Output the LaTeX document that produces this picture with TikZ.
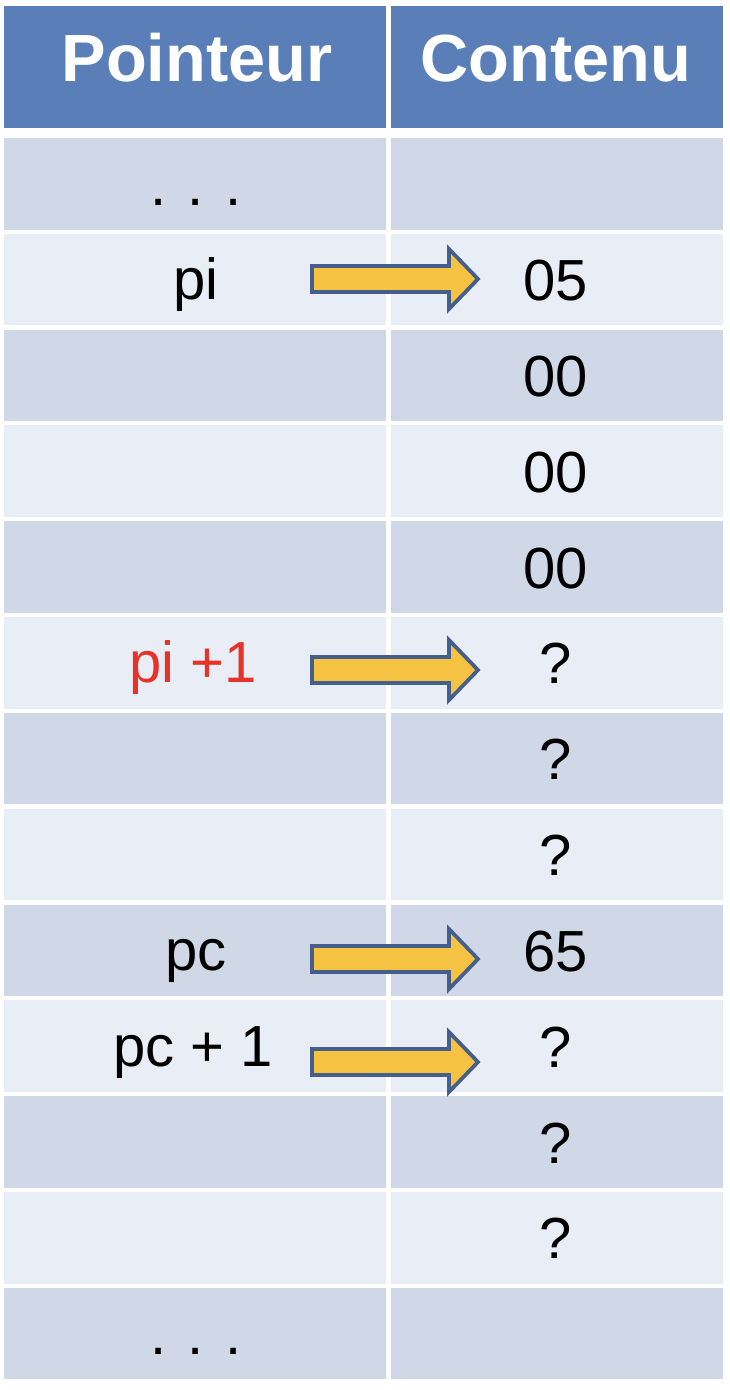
\documentclass[tikz,border=0pt]{standalone}
\usepackage{fontspec}
\setmainfont{Liberation Sans}

\definecolor{headblue}{HTML}{5A7FB8}
\definecolor{rowdark}{HTML}{D0D8E7}
\definecolor{rowlight}{HTML}{E9EDF5}
\definecolor{arrowfill}{HTML}{F5C242}
\definecolor{arrowline}{HTML}{445F8C}
\definecolor{ptrred}{HTML}{E63228}

\tikzset{
  headtext/.style={anchor=base, text=white, font=\bfseries\fontsize{38}{38}\selectfont, inner sep=0pt},
  celltext/.style={anchor=base, font=\fontsize{33}{33}\selectfont, inner sep=0pt},
  ptrarrow/.style={fill=arrowfill, draw=arrowline, line width=0.075cm, miter limit=10}
}

% block arrow at height #1
\newcommand{\ptrarrowat}[1]{%
  \draw[ptrarrow] (312,#1-13) -- (449,#1-13) -- (449,#1-30) -- (478,#1)
    -- (449,#1+30) -- (449,#1+13) -- (312,#1+13) -- cycle;}

\begin{document}
\begin{tikzpicture}[x=0.02cm,y=-0.02cm]
\useasboundingbox (0,0) rectangle (730,1390);

% header
  \fill[headblue] (4,6) rectangle (386,128);
  \fill[headblue] (391,6) rectangle (723,128);
  \node[headtext] (hptr) at (197,81) {Pointeur};
  \node[headtext] (hcont) at (556,81) {Contenu};

% rows, dark and light in turn
  \foreach \i in {1,...,13} {
    \pgfmathsetmacro{\rtop}{138+(\i-1)*95.83}
    \pgfmathtruncatemacro{\odd}{mod(\i,2)}
    \ifnum\odd=1 \def\rowcol{rowdark}\else\def\rowcol{rowlight}\fi
    \fill[\rowcol] (4,\rtop) rectangle (386,\rtop+91.5);
    \fill[\rowcol] (391,\rtop) rectangle (723,\rtop+91.5);
  }

% contents
  \foreach \i/\val in {2/05,3/00,4/00,5/00,6/?,7/?,8/?,9/65,10/?,11/?,12/?} {
    \pgfmathsetmacro{\rbase}{138+(\i-1)*95.83+45.75+21}
    \node[celltext] (c\i) at (556,\rbase) {\val};
  }

% pointers
  \node[celltext] (p1) at (196,205) {. . .};
  \node[celltext] (p2) at (196,299.6) {pi};
  \node[celltext, text=ptrred] (p6) at (193,682.8) {pi +1};
  \node[celltext] (p9) at (196,970.4) {pc};
  \node[celltext] (p10) at (193,1066.3) {pc + 1};
  \node[celltext] (p13) at (196,1354.3) {. . .};

% arrows from pointer to content
  \ptrarrowat{279}
  \ptrarrowat{670}
  \ptrarrowat{959}
  \ptrarrowat{1062}

\end{tikzpicture}
\end{document}
